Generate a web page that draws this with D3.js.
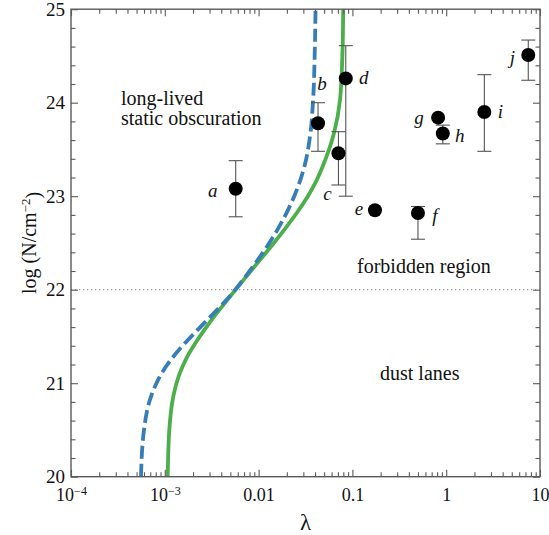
<!DOCTYPE html>
<html>
<head>
<meta charset="utf-8">
<script src="https://cdn.jsdelivr.net/npm/d3@7"></script>
<style>
    body { margin: 0; background: #fff; }
    text { font-family: "Liberation Serif", "Times New Roman", serif; fill: #111; }
</style>
</head>
<body>
<div id="chart"></div>
<script>
// ---- data ----
// observed sources
var pointNames  = ["a", "b", "c", "d", "e", "f", "g", "h", "i", "j"];
var pointLambda = [0.0057, 0.043, 0.071, 0.085, 0.174, 0.50, 0.82, 0.92, 2.55, 7.5];
var pointLogN   = [23.08, 23.78, 23.46, 24.26, 22.85, 22.82, 23.84, 23.67, 23.90, 24.51];
var errLow      = [22.78, 23.48, 23.12, 23.00, null, 22.54, null, 23.56, 23.48, 24.24];
var errHigh     = [23.38, 24.00, 23.69, 24.61, null, 22.89, null, 23.76, 24.30, 24.67];

// model curves, sampled on a common log N grid
var curveLogN = [20.00, 20.50, 20.86, 21.11, 21.28, 21.43, 21.57, 21.68, 21.89, 22.00,
                 22.25, 22.46, 22.64, 22.82, 23.00, 23.17, 23.32, 23.67, 24.03, 24.56, 25.00];
var dashedLambda = [5.57e-4, 6.00e-4, 7.14e-4, 9.31e-4, 1.225e-3, 1.648e-3, 2.239e-3, 2.864e-3, 4.529e-3, 5.636e-3,
                    8.73e-3, 0.01225, 0.01585, 0.01982, 0.02399, 0.02780, 0.03083, 0.03565, 0.03811, 0.03972, 0.04046];
var solidLambda  = [1.074e-3, 1.117e-3, 1.233e-3, 1.449e-3, 1.726e-3, 2.123e-3, 2.642e-3, 3.177e-3, 4.634e-3, 5.675e-3,
                    9.10e-3, 0.01352, 0.01875, 0.02547, 0.0335, 0.0415, 0.0483, 0.0635, 0.0738, 0.0785, 0.0798];

var thresholdLogN = 22;

// axis ticks
var xTickValues = [1e-4, 1e-3, 0.01, 0.1, 1, 10];
var xTickLabels = ["10|\u22124", "10|\u22123", "0.01", "0.1", "1", "10"];
var yTickValues = [20, 21, 22, 23, 24, 25];

// region annotations
var regionNames = ["long-lived", "static obscuration", "forbidden region", "dust lanes"];

function init() {
    var w = 549, h = 535;
    var left = 71, right = 540, top = 9.2, bottom = 476.7;
    var axisColor = "#5a5a5a";

    var svg = d3.select("#chart").append("svg")
        .attr("width", w)
        .attr("height", h);

    var xScale = d3.scaleLog().domain([1e-4, 10]).range([left, right]);
    var yScale = d3.scaleLinear().domain([20, 25]).range([bottom, top]);

    // minor ticks
    var xMinor = xScale.ticks().filter(v => xTickValues.indexOf(v) < 0);
    var yMinor = d3.range(20, 25.001, 0.2).filter(v => Math.abs(v - Math.round(v)) > 0.01);

    svg.append("clipPath").attr("id", "plot-clip")
        .append("rect")
        .attr("x", left).attr("y", top)
        .attr("width", right - left).attr("height", bottom - top);

    // dotted threshold line
    svg.append("line")
        .attr("x1", left).attr("x2", right)
        .attr("y1", yScale(thresholdLogN)).attr("y2", yScale(thresholdLogN))
        .attr("stroke", "#9a9a9a")
        .attr("stroke-width", 1.3)
        .attr("stroke-dasharray", "1.3,2.7");

    // model curves
    var line = d3.line()
        .x(d => xScale(d[0]))
        .y(d => yScale(d[1]))
        .curve(d3.curveMonotoneY);

    var curves = svg.append("g").attr("clip-path", "url(#plot-clip)");
    curves.append("path")
        .datum(d3.zip(solidLambda, curveLogN))
        .attr("d", line)
        .attr("fill", "none")
        .attr("stroke", "#4daf4a")
        .attr("stroke-width", 3.8);
    curves.append("path")
        .datum(d3.zip(dashedLambda, curveLogN))
        .attr("d", line)
        .attr("fill", "none")
        .attr("stroke", "#377eb8")
        .attr("stroke-width", 3.8)
        .attr("stroke-dasharray", "13,5");

    // error bars
    var points = pointNames.map((n, i) => ({
        name: n, lambda: pointLambda[i], logN: pointLogN[i], lo: errLow[i], hi: errHigh[i]
    }));
    var withErr = points.filter(d => d.lo !== null);
    var cap = 7;
    var eb = svg.append("g").attr("stroke", "#555").attr("stroke-width", 1.1);
    eb.selectAll(".stem").data(withErr).enter().append("line")
        .attr("x1", d => xScale(d.lambda)).attr("x2", d => xScale(d.lambda))
        .attr("y1", d => yScale(d.lo)).attr("y2", d => yScale(d.hi));
    eb.selectAll(".caplo").data(withErr).enter().append("line")
        .attr("x1", d => xScale(d.lambda) - cap).attr("x2", d => xScale(d.lambda) + cap)
        .attr("y1", d => yScale(d.lo)).attr("y2", d => yScale(d.lo));
    eb.selectAll(".caphi").data(withErr).enter().append("line")
        .attr("x1", d => xScale(d.lambda) - cap).attr("x2", d => xScale(d.lambda) + cap)
        .attr("y1", d => yScale(d.hi)).attr("y2", d => yScale(d.hi));

    // markers
    svg.selectAll("circle").data(points).enter().append("circle")
        .attr("cx", d => xScale(d.lambda))
        .attr("cy", d => yScale(d.logN))
        .attr("r", 7)
        .attr("fill", "#000");

    // point letters, offset in px from the marker
    var labelOffset = {
        a: [-23, 8], b: [4, -33], c: [-11, 47], d: [18, 6], e: [-16, 5],
        f: [17, 9], g: [-19, 6], h: [17, 8], i: [16, 6], j: [-16, 9]
    };
    svg.selectAll(".ptlabel").data(points).enter().append("text")
        .attr("class", "ptlabel")
        .attr("x", d => xScale(d.lambda) + labelOffset[d.name][0])
        .attr("y", d => yScale(d.logN) + labelOffset[d.name][1])
        .attr("text-anchor", "middle")
        .style("font-style", "italic")
        .style("font-size", "19px")
        .text(d => d.name);

    // region annotations
    var regionPos = [[121, 105], [121, 125], [357, 273], [380, 380]];
    svg.selectAll(".region").data(regionNames).enter().append("text")
        .attr("class", "region")
        .attr("x", (d, i) => regionPos[i][0])
        .attr("y", (d, i) => regionPos[i][1])
        .style("font-size", "20px")
        .text(d => d);

    // axes - ticks point inward on all four sides
    var bottomAxis = svg.append("g")
        .attr("transform", "translate(0," + bottom + ")")
        .attr("color", axisColor)
        .call(d3.axisBottom(xScale).tickValues(xTickValues).tickSizeInner(-7).tickSizeOuter(0).tickPadding(12)
            .tickFormat((d, i) => xTickLabels[i]));
    bottomAxis.selectAll("text").each(function (d, i) {
        var parts = xTickLabels[i].split("|");
        var t = d3.select(this).text(parts[0]).style("font-size", "18px").style("fill", "#111");
        if (parts.length > 1) {
            t.append("tspan").attr("dy", "-0.55em").style("font-size", "12px").text(parts[1]);
        }
    });
    svg.append("g")
        .attr("transform", "translate(0," + bottom + ")")
        .attr("color", axisColor)
        .call(d3.axisBottom(xScale).tickValues(xMinor).tickSizeInner(-4.5).tickSizeOuter(0).tickFormat(""));
    svg.append("g")
        .attr("transform", "translate(0," + top + ")")
        .attr("color", axisColor)
        .call(d3.axisTop(xScale).tickValues(xTickValues).tickSizeInner(-7).tickSizeOuter(0).tickFormat(""));
    svg.append("g")
        .attr("transform", "translate(0," + top + ")")
        .attr("color", axisColor)
        .call(d3.axisTop(xScale).tickValues(xMinor).tickSizeInner(-4.5).tickSizeOuter(0).tickFormat(""));

    var leftAxis = svg.append("g")
        .attr("transform", "translate(" + left + ",0)")
        .attr("color", axisColor)
        .call(d3.axisLeft(yScale).tickValues(yTickValues).tickSizeInner(-7).tickSizeOuter(0).tickPadding(6)
            .tickFormat(d3.format("d")));
    leftAxis.selectAll("text").style("font-size", "19px").style("fill", "#111");
    svg.append("g")
        .attr("transform", "translate(" + left + ",0)")
        .attr("color", axisColor)
        .call(d3.axisLeft(yScale).tickValues(yMinor).tickSizeInner(-4.5).tickSizeOuter(0).tickFormat(""));
    svg.append("g")
        .attr("transform", "translate(" + right + ",0)")
        .attr("color", axisColor)
        .call(d3.axisRight(yScale).tickValues(yTickValues).tickSizeInner(-7).tickSizeOuter(0).tickFormat(""));
    svg.append("g")
        .attr("transform", "translate(" + right + ",0)")
        .attr("color", axisColor)
        .call(d3.axisRight(yScale).tickValues(yMinor).tickSizeInner(-4.5).tickSizeOuter(0).tickFormat(""));

    svg.selectAll(".domain").remove();
    svg.selectAll(".tick line").attr("stroke-width", 1.1);

    // frame
    svg.append("rect")
        .attr("x", left).attr("y", top)
        .attr("width", right - left).attr("height", bottom - top)
        .attr("fill", "none")
        .attr("stroke", axisColor)
        .attr("stroke-width", 1.4);

    // axis titles
    svg.append("text")
        .attr("x", (left + right) / 2)
        .attr("y", 530)
        .attr("text-anchor", "middle")
        .style("font-size", "23px")
        .text("\u03bb");

    var yTitle = svg.append("text")
        .attr("transform", "translate(36," + ((top + bottom) / 2) + ") rotate(-90)")
        .attr("text-anchor", "middle")
        .style("font-size", "20px");
    yTitle.append("tspan").text("log (N/cm");
    yTitle.append("tspan").attr("dy", "-0.5em").style("font-size", "13px").text("\u22122");
    yTitle.append("tspan").attr("dy", "0.5em").text(")");
}

window.onload = init;
</script>
</body>
</html>
